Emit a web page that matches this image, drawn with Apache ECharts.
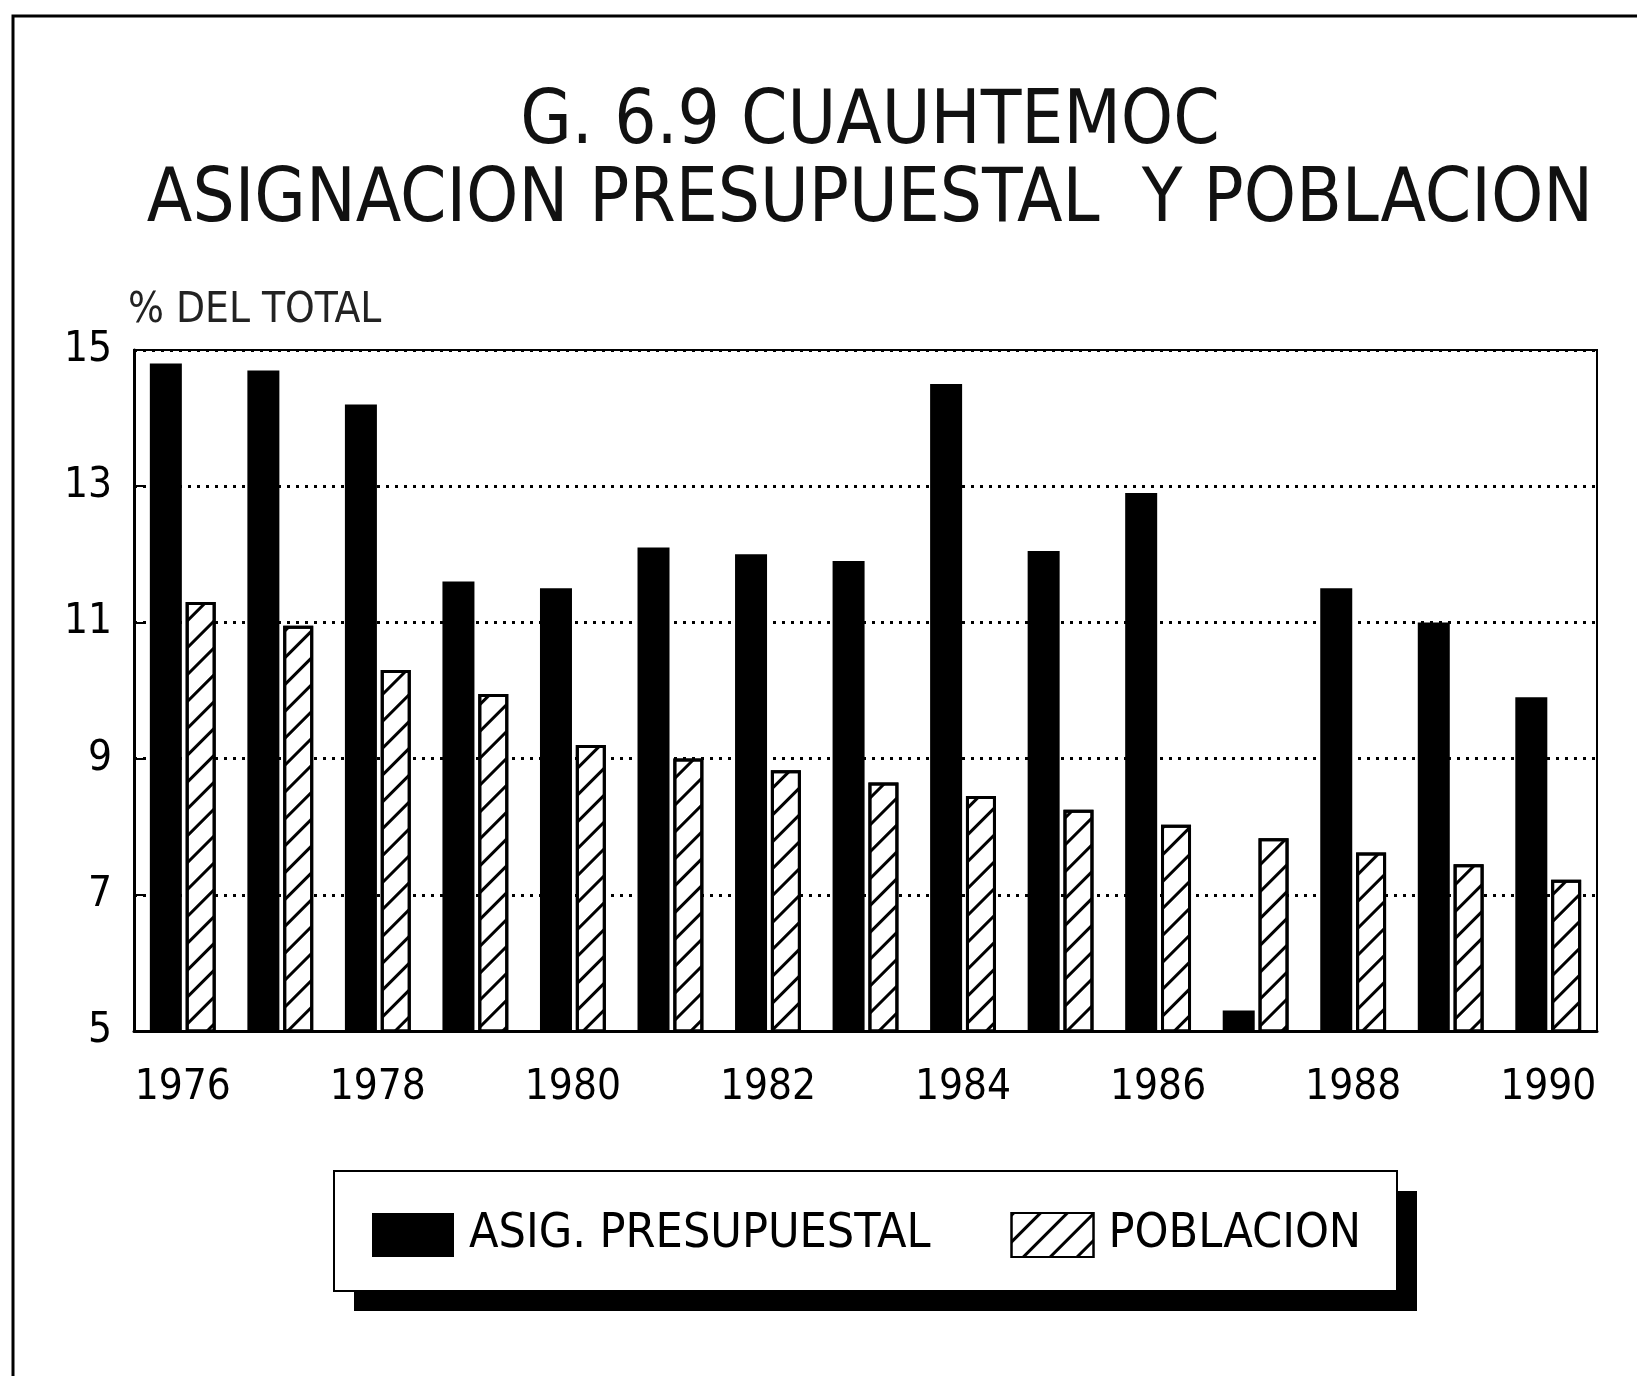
<!DOCTYPE html>
<html>
<head>
<meta charset="utf-8">
<script src="https://cdn.jsdelivr.net/npm/echarts@6/dist/echarts.min.js"></script>
<style>
  html, body { margin: 0; padding: 0; background: #fff; }
  #chart { width: 1637px; height: 1376px; }
</style>
</head>
<body>
<div id="chart"></div>
<script>
// datos
const years = ['1976', '1977', '1978', '1979', '1980', '1981', '1982', '1983',
  '1984', '1985', '1986', '1987', '1988', '1989', '1990']
const asignacion = [14.8, 14.7, 14.2, 11.6, 11.5, 12.1, 12.0, 11.9, 14.5, 12.05, 12.9, 5.3, 11.5, 11.0, 9.9]
const poblacion = [11.3, 10.95, 10.3, 9.95, 9.2, 9.0, 8.83, 8.65, 8.45, 8.25, 8.03, 7.83, 7.62, 7.45, 7.22]
const yTicks = [5, 7, 9, 11, 13, 15]

const FONT = '"DejaVu Sans Condensed", "DejaVu Sans", sans-serif'

// rayado diagonal para la serie de poblacion
const hatch = {
  symbol: 'rect',
  symbolSize: 1,
  color: '#000',
  dashArrayX: [1, 0],
  dashArrayY: [3, 16],
  rotation: -Math.PI / 4
}

const chart = echarts.init(document.getElementById('chart'))

chart.setOption({
  backgroundColor: '#fff',
  animation: false,
  title: {
    text: 'G. 6.9 CUAUHTEMOC\nASIGNACION PRESUPUESTAL  Y POBLACION',
    left: 865,
    top: 80,
    textAlign: 'center',
    textStyle: {
      fontFamily: FONT,
      fontSize: 74,
      fontWeight: 'normal',
      lineHeight: 78,
      color: '#111'
    }
  },
  graphic: [
    {
      type: 'polyline',
      shape: { points: [[13, 1376], [13, 16], [1637, 16]] },
      style: { stroke: '#000', lineWidth: 3, fill: null }
    },
    // caja de la leyenda con su sombra
    {
      type: 'rect',
      shape: { x: 354, y: 1191, width: 1063, height: 120 },
      style: { fill: '#000' }
    },
    {
      type: 'rect',
      shape: { x: 334, y: 1171, width: 1063, height: 120 },
      style: { fill: '#fff', stroke: '#000', lineWidth: 2 }
    }
  ],
  legend: {
    left: 334,
    top: 1171,
    padding: [40, 40, 36, 38],
    icon: 'rect',
    itemWidth: 82,
    itemHeight: 44,
    itemGap: 80,
    textStyle: {
      fontFamily: FONT,
      fontSize: 48,
      color: '#000',
      padding: [6, 0, 0, 10]
    },
    data: ['ASIG. PRESUPUESTAL', 'POBLACION']
  },
  grid: {
    left: 134,
    right: 40,
    top: 350,
    bottom: 345,
    show: true,
    borderColor: '#000',
    borderWidth: 2
  },
  xAxis: {
    type: 'category',
    data: years,
    axisLine: { lineStyle: { color: '#000', width: 3 } },
    axisTick: {
      alignWithLabel: true,
      interval: 0,
      length: 16,
      lineStyle: { color: '#000', width: 3 }
    },
    axisLabel: {
      interval: 1,
      margin: 36,
      fontFamily: FONT,
      fontSize: 42,
      color: '#000'
    }
  },
  yAxis: {
    type: 'value',
    min: yTicks[0],
    max: yTicks[yTicks.length - 1],
    interval: 2,
    name: '% DEL TOTAL',
    nameLocation: 'end',
    nameGap: 18,
    nameTextStyle: {
      fontFamily: FONT,
      fontSize: 42,
      color: '#222',
      align: 'left',
      padding: [0, 0, 0, -6]
    },
    axisLine: { show: true, lineStyle: { color: '#000', width: 3 } },
    axisTick: { show: true, inside: true, length: 12, lineStyle: { color: '#000', width: 2 } },
    axisLabel: {
      margin: 22,
      fontFamily: FONT,
      fontSize: 42,
      color: '#000'
    },
    splitLine: { lineStyle: { color: '#000', width: 3, type: [3, 6] } }
  },
  series: [
    {
      name: 'ASIG. PRESUPUESTAL',
      type: 'bar',
      data: asignacion,
      barWidth: 32,
      barGap: '12%',
      itemStyle: { color: '#000' }
    },
    {
      name: 'POBLACION',
      type: 'bar',
      data: poblacion,
      barWidth: 30,
      itemStyle: {
        color: '#fff',
        borderColor: '#000',
        borderWidth: 3,
        decal: hatch
      }
    }
  ]
})
</script>
</body>
</html>
